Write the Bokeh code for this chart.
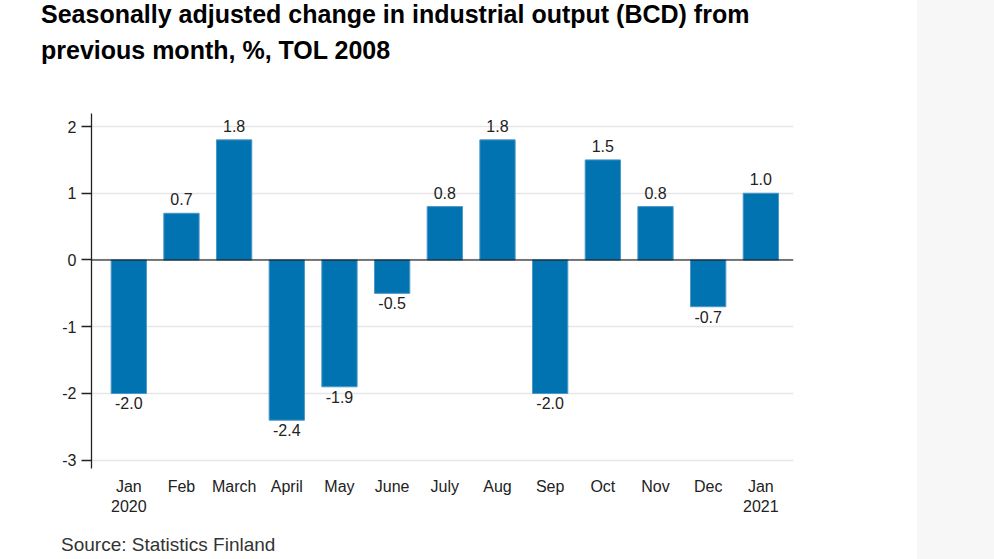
from bokeh.plotting import figure
from bokeh.models import Range1d, FixedTicker, Span, ColumnDataSource, Div
from bokeh.layouts import row, column
from bokeh.embed import file_html
from bokeh.resources import INLINE

# ---- data ----
months = ["Jan\n2020", "Feb", "March", "April", "May", "June", "July",
          "Aug", "Sep", "Oct", "Nov", "Dec", "Jan\n2021"]
changes = [-2.0, 0.7, 1.8, -2.4, -1.9, -0.5, 0.8, 1.8, -2.0, 1.5, 0.8, -0.7, 1.0]
y_ticks = [-3, -2, -1, 0, 1, 2]
y_tick_labels = ["-3", "-2", "-1", "0", "1", "2"]
title_lines = ["Seasonally adjusted change in industrial output (BCD) from",
               "previous month, %, TOL 2008"]
source_note = "Source: Statistics Finland"

FONT = "Liberation Sans"
BLUE = "#0073b0"
LEFT_W, SIDE_W = 917, 77
TITLE_H, PLOT_H, SRC_H = 80, 448, 31
xs = list(range(len(months)))

p = figure(width=LEFT_W, height=PLOT_H,
           x_range=Range1d(-0.708, 12.62), y_range=Range1d(-3.124, 2.195),
           output_backend="svg", toolbar_location=None,
           min_border_left=91, min_border_right=124,
           min_border_top=33, min_border_bottom=60, margin=0)
p.outline_line_color = None
p.background_fill_color = "white"
p.border_fill_color = "white"

p.vbar(x=xs, top=changes, bottom=0, width=0.67,
       fill_color=BLUE, line_color="#4c97c9", line_width=1)

p.add_layout(Span(location=0, dimension="width", line_color="black", line_width=1.2))

# value labels
pos = ColumnDataSource(dict(x=[x for x, v in zip(xs, changes) if v >= 0],
                            y=[v for v in changes if v >= 0],
                            t=[f"{v:.1f}" for v in changes if v >= 0]))
neg = ColumnDataSource(dict(x=[x for x, v in zip(xs, changes) if v < 0],
                            y=[v for v in changes if v < 0],
                            t=[f"{v:.1f}" for v in changes if v < 0]))
p.text(x="x", y="y", text="t", source=pos, text_align="center",
       text_baseline="bottom", y_offset=-8, text_font_size="16px",
       text_color="#222222", text_font={"value": FONT})
p.text(x="x", y="y", text="t", source=neg, text_align="center",
       text_baseline="top", y_offset=4, text_font_size="16px",
       text_color="#222222", text_font={"value": FONT})

# axes
ya = p.yaxis[0]
ya.ticker = FixedTicker(ticks=y_ticks)
ya.major_label_overrides = {t: s for t, s in zip(y_ticks, y_tick_labels)}
ya.major_tick_out = 10
ya.major_tick_in = 0
ya.minor_tick_line_color = None
ya.axis_line_color = "#222222"
ya.axis_line_width = 1.3
ya.major_tick_line_color = "#222222"
ya.major_tick_line_width = 1.3
ya.major_label_standoff = 5
ya.major_label_text_font = FONT
ya.major_label_text_font_size = "16px"
ya.major_label_text_color = "#222222"

xa = p.xaxis[0]
xa.ticker = FixedTicker(ticks=xs)
xa.major_label_overrides = {i: m for i, m in zip(xs, months)}
xa.axis_line_color = None
xa.major_tick_line_color = None
xa.minor_tick_line_color = None
xa.major_tick_out = 0
xa.major_label_standoff = 9
xa.major_label_text_font = FONT
xa.major_label_text_font_size = "16px"
xa.major_label_text_color = "#222222"

p.xgrid.grid_line_color = None
p.ygrid.ticker = FixedTicker(ticks=y_ticks)
p.ygrid.grid_line_color = "#e6e6e6"
p.ygrid.grid_line_width = 1.6

# title and source as text blocks
title_html = (
    f'<div style="font-family:\'{FONT}\';font-weight:bold;font-size:25px;color:#000;'
    f'padding-left:41px;white-space:nowrap;">'
    f'<div style="line-height:28px;">{title_lines[0]}</div>'
    f'<div style="line-height:44px;">{title_lines[1]}</div></div>'
)
title_div = Div(text=title_html, width=LEFT_W, height=TITLE_H, margin=0)

src_html = (
    f'<div style="font-family:\'{FONT}\';font-size:19px;color:#333;'
    f'padding-left:61px;padding-top:7px;line-height:19px;white-space:nowrap;">'
    f'{source_note}</div>'
)
src_div = Div(text=src_html, width=LEFT_W, height=SRC_H, margin=0)

side = Div(width=SIDE_W, height=TITLE_H + PLOT_H + SRC_H, margin=0,
           styles={"background-color": "#f7f7f7"})

layout = row(column(title_div, p, src_div, spacing=0, margin=0), side,
             spacing=0, margin=0)

open("out.html", "w").write(file_html(layout, INLINE))
